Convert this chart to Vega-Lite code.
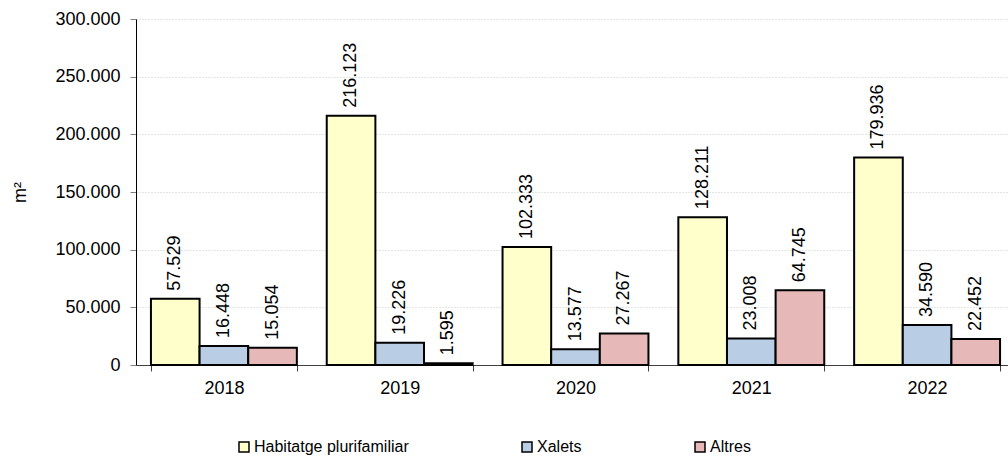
{
  "$schema": "https://vega.github.io/schema/vega-lite/v6.json",
  "autosize": {"type": "none"},
  "padding": {"left": 136, "top": 19, "right": -7, "bottom": 94},
  "width": 879,
  "height": 346,
  "background": "white",
  "config": {
    "locale": {"number": {"decimal": ",", "thousands": ".", "grouping": [3], "currency": ["", " €"]}},
    "font": "Liberation Sans",
    "view": {"stroke": null}
  },
  "data": {
    "values": [
      {"year": "2018", "type": "Habitatge plurifamiliar", "value": 57529},
      {"year": "2018", "type": "Xalets", "value": 16448},
      {"year": "2018", "type": "Altres", "value": 15054},
      {"year": "2019", "type": "Habitatge plurifamiliar", "value": 216123},
      {"year": "2019", "type": "Xalets", "value": 19226},
      {"year": "2019", "type": "Altres", "value": 1595},
      {"year": "2020", "type": "Habitatge plurifamiliar", "value": 102333},
      {"year": "2020", "type": "Xalets", "value": 13577},
      {"year": "2020", "type": "Altres", "value": 27267},
      {"year": "2021", "type": "Habitatge plurifamiliar", "value": 128211},
      {"year": "2021", "type": "Xalets", "value": 23008},
      {"year": "2021", "type": "Altres", "value": 64745},
      {"year": "2022", "type": "Habitatge plurifamiliar", "value": 179936},
      {"year": "2022", "type": "Xalets", "value": 34590},
      {"year": "2022", "type": "Altres", "value": 22452}
    ]
  },
  "encoding": {
    "x": {
      "field": "year", "type": "nominal",
      "scale": {"paddingInner": 0.17, "paddingOuter": 0.085},
      "axis": {
        "title": null, "labelAngle": 0, "tickBand": "extent",
        "domainColor": "#404040", "domainWidth": 1, "tickColor": "#404040", "tickSize": 6,
        "labelFontSize": 18, "labelColor": "#000", "labelPadding": 8, "grid": false
      }
    },
    "y": {
      "field": "value", "type": "quantitative",
      "scale": {"domain": [0, 300000], "nice": false},
      "axis": {
        "title": "m²", "titleFontSize": 18, "titleFontWeight": "normal", "titleColor": "#000", "titlePadding": 25,
        "values": [0, 50000, 100000, 150000, 200000, 250000, 300000],
        "format": ",d", "labelFontSize": 18, "labelColor": "#000", "labelPadding": 10,
        "domainColor": "#000", "domainWidth": 1, "tickColor": "#808080", "tickSize": 6,
        "gridColor": "#c8c8c8", "gridDash": [1, 2], "gridWidth": 1
      }
    },
    "xOffset": {"field": "type", "type": "nominal", "sort": ["Habitatge plurifamiliar", "Xalets", "Altres"], "scale": {"paddingInner": 0, "paddingOuter": 0}}
  },
  "layer": [
    {
      "mark": {"type": "bar", "stroke": "#000", "strokeWidth": 2},
      "encoding": {
        "color": {
          "field": "type", "type": "nominal",
          "sort": ["Habitatge plurifamiliar", "Xalets", "Altres"],
          "scale": {"domain": ["Habitatge plurifamiliar", "Xalets", "Altres"], "range": ["#FFFFCC", "#B9CDE5", "#E6B9B8"]},
          "legend": {
            "title": null, "orient": "none", "legendX": 100, "legendY": 420,
            "direction": "horizontal", "columns": 3, "gridAlign": "none", "columnPadding": 110,
            "symbolType": "square", "symbolSize": 100, "symbolStrokeColor": "#000", "symbolStrokeWidth": 1.5,
            "symbolOpacity": 1, "labelFontSize": 16, "labelColor": "#000", "labelOffset": 2
          }
        }
      }
    },
    {
      "mark": {"type": "text", "angle": 270, "align": "left", "baseline": "middle", "dx": 8, "fontSize": 18, "color": "#000"},
      "encoding": {
        "text": {"field": "value", "type": "quantitative", "format": ",d"}
      }
    }
  ]
}
